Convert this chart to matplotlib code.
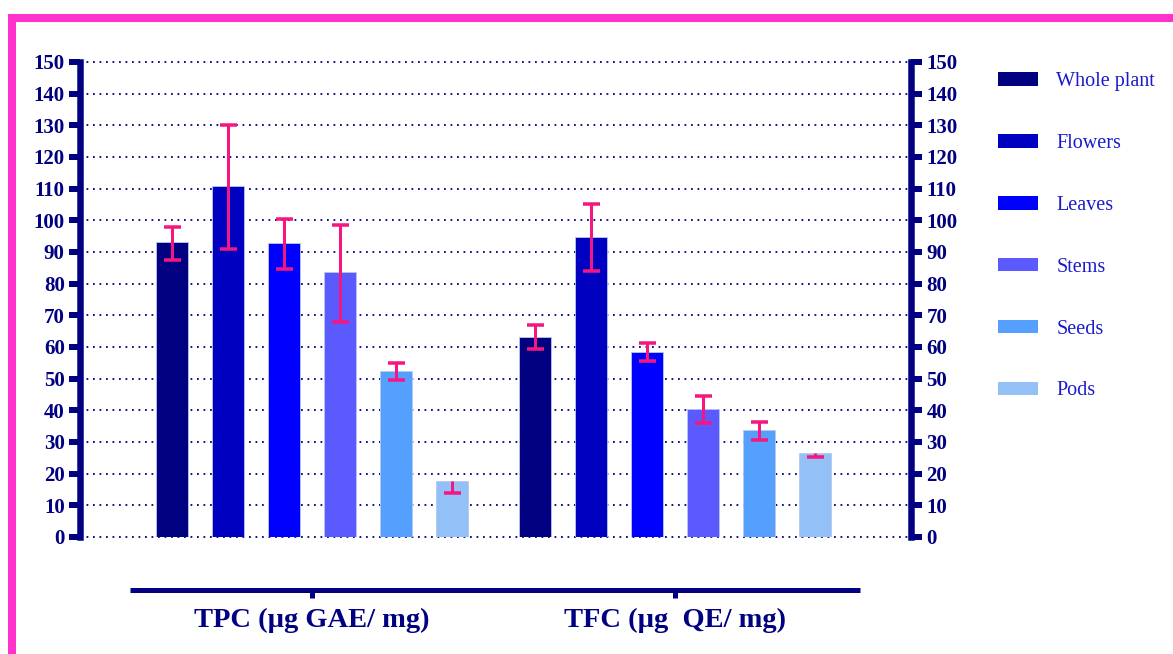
import matplotlib
matplotlib.use("Agg")
import matplotlib.pyplot as plt
from matplotlib.patches import Rectangle, Patch
import numpy as np

# ---- data ----
groups = ["TPC (µg GAE/ mg)", "TFC (µg  QE/ mg)"]
parts = ["Whole plant", "Flowers", "Leaves", "Stems", "Seeds", "Pods"]
tpc_mean = [93.2, 110.8, 92.8, 83.7, 52.4, 17.7]
tpc_err_low = [5.6, 19.8, 8.2, 15.8, 2.8, 3.8]
tpc_err_high = [4.7, 19.3, 7.6, 14.8, 2.5, 0.0]
tfc_mean = [63.2, 94.7, 58.4, 40.4, 33.8, 26.5]
tfc_err_low = [3.8, 10.7, 2.8, 4.4, 3.2, 1.2]
tfc_err_high = [3.7, 10.4, 2.9, 4.1, 2.5, 0.0]
yticks = list(range(0, 151, 10))

colors = ["#000080", "#0000C0", "#0000FF", "#5A5AFF", "#55A0FF", "#94C0F8"]
err_color = "#F5177F"
navy = "#000080"
pink = "#FF33CC"

plt.rcParams["font.family"] = ["Liberation Serif", "DejaVu Serif"]

W, H = 1173, 654
fig = plt.figure(figsize=(W / 100, H / 100), dpi=100)
px = 72 / 100  # points per pixel

ax_l, ax_r, ax_b, ax_t = 80, 911, 537, 62
ax = fig.add_axes([ax_l / W, 1 - ax_b / H, (ax_r - ax_l) / W, (ax_b - ax_t) / H])

group_gap = 6.48
n = len(parts)
pos_tpc = np.arange(n)
pos_tfc = np.arange(n) + group_gap
bw = 0.57

for vals, lo, hi, pos in [(tpc_mean, tpc_err_low, tpc_err_high, pos_tpc),
                          (tfc_mean, tfc_err_low, tfc_err_high, pos_tfc)]:
    vals = np.array(vals); lo = np.array(lo); hi = np.array(hi)
    ax.bar(pos, vals, width=bw, color=colors, edgecolor="#B8C8F0", linewidth=0.6, zorder=2)
    ax.vlines(pos, vals - lo, vals + hi, color=err_color, linewidth=3 * px, zorder=3)
    ax.plot(pos, vals - lo, linestyle="none", marker="_", markersize=17 * px,
            markeredgewidth=3.5 * px, color=err_color, zorder=3)
    m = hi > 0
    ax.plot(pos[m], (vals + hi)[m], linestyle="none", marker="_", markersize=17 * px,
            markeredgewidth=3.5 * px, color=err_color, zorder=3)

x0 = (ax_l - 172) / 56
x1 = (ax_r - 172) / 56
ax.set_xlim(x0, x1)
ax.set_ylim(0, 150)

# dotted horizontal grid
for yv in yticks:
    ax.axhline(yv, color=navy, linewidth=1.3, linestyle=(0, (1, 2.6)), zorder=1,
               clip_on=False)

ax.set_yticks(yticks)
ax.tick_params(axis="y", which="both", direction="out", length=8, width=6 * px,
               color=navy, labelcolor=navy, labelsize=15, pad=3,
               left=True, right=True, labelleft=True, labelright=True)
for lab in ax.get_yticklabels():
    lab.set_fontweight("bold")

for s in ["left", "right"]:
    ax.spines[s].set_linewidth(6.5 * px)
    ax.spines[s].set_color(navy)
    ax.spines[s].set_capstyle("projecting")
ax.spines["top"].set_visible(False)

# bottom axis line offset below
ax.spines["bottom"].set_position(("outward", 53 * px))
ax.spines["bottom"].set_linewidth(5 * px)
ax.spines["bottom"].set_color(navy)
ax.spines["bottom"].set_capstyle("butt")
ax.spines["bottom"].set_bounds((130 - 172) / 56, (860 - 172) / 56)
ax.set_xticks([pos_tpc.mean(), pos_tfc.mean()])
ax.set_xticklabels(groups)
ax.tick_params(axis="x", direction="out", length=6, width=5 * px, color=navy,
               labelcolor=navy, labelsize=20.5, pad=7)
for lab in ax.get_xticklabels():
    lab.set_fontweight("bold")

# legend
handles = [Patch(facecolor=c, edgecolor="none") for c in colors]
leg = fig.legend(handles, parts, loc="upper left",
                 bbox_to_anchor=(998 / W, 1 - 72 / H), frameon=False,
                 fontsize=14.5, labelcolor="#1A1ACC", handlelength=2.0,
                 handleheight=0.66, handletextpad=0.9, labelspacing=2.13,
                 borderpad=0, borderaxespad=0)

# pink frame
fig.patches.append(Rectangle((12 / W, -0.2), 1.2, 1 - 18 / H + 0.2,
                             transform=fig.transFigure, fill=False,
                             edgecolor=pink, linewidth=8 * px, zorder=0))

fig.savefig("out.png", dpi=100)
